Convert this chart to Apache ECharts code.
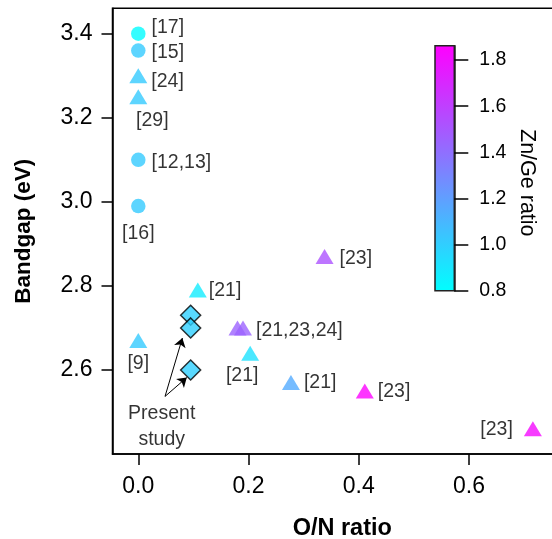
<!DOCTYPE html>
<html><head><meta charset="utf-8">
<script src="https://cdn.jsdelivr.net/npm/echarts@6/dist/echarts.min.js"></script>
<style>html,body{margin:0;padding:0;background:#fff}#c{width:552px;height:539px}</style>
</head><body><div id="c"></div>
<script>
// ---- data ----
const circleX   = [0, 0, 0, 0];
const circleY   = [3.40, 3.36, 3.10, 2.99];
const circleZn  = [0.81, 1.02, 1.02, 1.02];
const circleRef = ['[17]', '[15]', '[12,13]', '[16]'];

const triX   = [0, 0, 0, 0.108, 0.180, 0.190, 0.203, 0.277, 0.338, 0.411, 0.716];
const triY   = [3.30, 3.25, 2.67, 2.79, 2.70, 2.70, 2.64, 2.57, 2.87, 2.55, 2.46];
const triZn  = [1.02, 1.02, 1.02, 0.88, 1.45, 1.45, 0.92, 1.15, 1.52, 1.85, 1.82];
const triRef = ['[24]', '[29]', '[9]', '[21]', '', '[21,23,24]', '[21]', '[21]', '[23]', '[23]', '[23]'];

const diaX  = [0.095, 0.095, 0.095];
const diaY  = [2.73, 2.70, 2.60];
const diaZn = [1.0, 1.0, 1.0];

const presentText = 'Present\nstudy';
const presentAt   = [0.0425, 2.466];
const arrowFrom   = [0.0485, 2.537];
const arrowTo     = [[0.0800, 2.676], [0.0880, 2.582]];

const xTicks  = [0, 0.2, 0.4, 0.6];
const yTicks  = [2.6, 2.8, 3.0, 3.2, 3.4];
const znTicks = [0.8, 1.0, 1.2, 1.4, 1.6, 1.8];
const znRange = [0.8, 1.862];

// ---- label placement (style only) ----
const circleLabelLayout = [
  {position: 'right', distance: 6, offset: [0, -6]},
  {position: 'right', distance: 6, offset: [0, 2]},
  {position: 'right', distance: 6, offset: [0, 3]},
  {position: 'bottom', distance: 10, offset: [0, 0]}
];
const triLabelLayout = [
  {position: 'right', distance: 4, offset: [0, 6]},
  {position: 'bottom', distance: 6, offset: [14, 0]},
  {position: 'bottom', distance: 6, offset: [0, 0]},
  {position: 'right', distance: 2, offset: [0, 1]},
  {position: 'right', distance: 4, offset: [0, 0]},
  {position: 'right', distance: 4, offset: [0, 3]},
  {position: 'bottom', distance: 5, offset: [-8, 0]},
  {position: 'right', distance: 4, offset: [0, 0]},
  {position: 'right', distance: 6, offset: [0, 2]},
  {position: 'right', distance: 4, offset: [0, 1]},
  {position: 'left', distance: 11, offset: [0, 1]}
];

const FONT = '"Liberation Sans", Arial, Helvetica, sans-serif';
const LBL = {color: '#000', fontFamily: FONT, fontSize: 19.5};

function build(xs, ys, zs, refs, layout) {
  return xs.map((x, i) => {
    const item = {value: [x, ys[i], zs[i]]};
    if (refs && refs[i]) {
      item.label = Object.assign({show: true, formatter: refs[i]}, LBL, layout[i]);
    }
    return item;
  });
}

const chart = echarts.init(document.getElementById('c'), null, {renderer: 'canvas'});
const fmt1 = v => Number(v).toFixed(1);

const option = {
  animation: false,
  grid: [
    {left: 112.5, top: 8.3, width: 459.5, height: 445.7, outerBoundsMode: 'none', containLabel: false,
     show: true, borderColor: '#000', borderWidth: 1.5, backgroundColor: 'transparent'},
    {left: 435, top: 45.7, width: 19.3, height: 245, outerBoundsMode: 'none', containLabel: false,
     show: true, borderColor: '#222', borderWidth: 1.5,
     backgroundColor: {type: 'linear', x: 0, y: 0, x2: 0, y2: 1,
       colorStops: [{offset: 0, color: '#FF00FF'}, {offset: 1, color: '#00FFFF'}]}}
  ],
  xAxis: [
    {type: 'value', gridIndex: 0, min: -0.0468, max: 0.787,
     name: 'O/N ratio', nameLocation: 'middle', nameGap: 63,
     nameTextStyle: {fontFamily: FONT, fontSize: 23.5, fontWeight: 'bold', color: '#000'},
     axisLine: {show: true, onZero: false, lineStyle: {color: '#000', width: 1.5}},
     axisTick: {show: true, inside: false, length: 11, lineStyle: {color: '#000', width: 1.5}, customValues: xTicks},
     axisLabel: {fontFamily: FONT, fontSize: 23, color: '#000', margin: 21, formatter: fmt1, customValues: xTicks},
     splitLine: {show: false}},
    {type: 'value', gridIndex: 1, min: 0, max: 1, show: false}
  ],
  yAxis: [
    {type: 'value', gridIndex: 0, min: 2.4, max: 3.4605,
     name: 'Bandgap (eV)', nameLocation: 'middle', nameGap: 77,
     nameTextStyle: {fontFamily: FONT, fontSize: 22.5, fontWeight: 'bold', color: '#000'},
     axisLine: {show: true, onZero: false, lineStyle: {color: '#000', width: 1.5}},
     axisTick: {show: true, inside: false, length: 11, lineStyle: {color: '#000', width: 1.5}, customValues: yTicks},
     axisLabel: {fontFamily: FONT, fontSize: 23, color: '#000', margin: 20, formatter: fmt1, customValues: yTicks},
     splitLine: {show: false}},
    {type: 'value', gridIndex: 1, min: znRange[0], max: znRange[1], position: 'right',
     axisLine: {show: true, onZero: false, lineStyle: {color: '#222', width: 1.5}},
     axisTick: {show: true, inside: false, length: 14, lineStyle: {color: '#000', width: 1.5}, customValues: znTicks},
     axisLabel: {fontFamily: FONT, fontSize: 19.5, color: '#000', margin: 25, formatter: fmt1, customValues: znTicks},
     splitLine: {show: false}}
  ],
  visualMap: {
    show: false, type: 'continuous', dimension: 2, min: znRange[0], max: znRange[1],
    seriesIndex: [0, 1, 2], inRange: {color: ['#00FFFF', '#FF00FF']}
  },
  graphic: [
    {type: 'text', left: 516, top: 129, rotation: -Math.PI / 2,
     style: {text: 'Zn/Ge ratio', fontFamily: FONT, fontSize: 21.5, fill: '#000'}}
  ],
  series: [
    {type: 'scatter', name: 'circles', xAxisIndex: 0, yAxisIndex: 0, symbol: 'circle', symbolSize: 14.5,
     data: build(circleX, circleY, circleZn, circleRef, circleLabelLayout), z: 3},
    {type: 'scatter', name: 'triangles', xAxisIndex: 0, yAxisIndex: 0, symbol: 'triangle', symbolSize: [18, 15],
     data: build(triX, triY, triZn, triRef, triLabelLayout), z: 3},
    {type: 'scatter', name: 'diamonds', xAxisIndex: 0, yAxisIndex: 0, symbol: 'diamond', symbolSize: [20, 20],
     itemStyle: {borderColor: '#000', borderWidth: 1.5},
     data: build(diaX, diaY, diaZn, null, null), z: 4},
    {type: 'scatter', name: 'note', xAxisIndex: 0, yAxisIndex: 0, symbolSize: 0, z: 6,
     itemStyle: {color: 'transparent'},
     data: [{value: presentAt, label: {show: true, position: 'inside', formatter: presentText,
       color: '#000', fontFamily: FONT, fontSize: 19.5, lineHeight: 26}}],
     markLine: {silent: true, symbol: ['none', 'arrow'], symbolSize: 9, animation: false,
       label: {show: false}, emphasis: {disabled: true},
       lineStyle: {color: '#000', width: 1, type: 'solid', opacity: 1},
       itemStyle: {color: '#000'},
       data: arrowTo.map(t => [{coord: arrowFrom, symbol: 'none'}, {coord: t, symbol: 'arrow', symbolSize: 9}])}}
  ]
};
chart.setOption(option);
</script></body></html>
